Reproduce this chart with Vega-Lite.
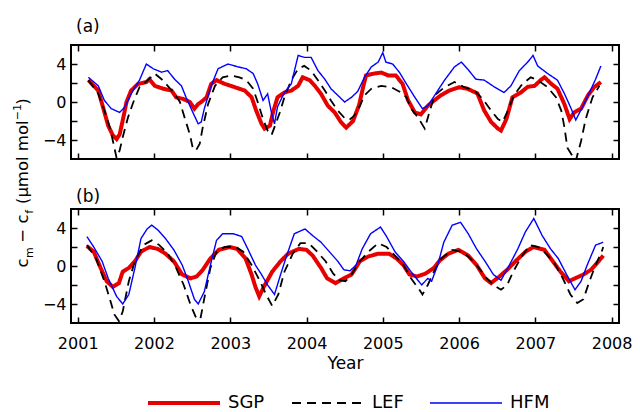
{
"$schema": "https://vega.github.io/schema/vega-lite/v6.json",
"background": "white",
"padding": {"left": 10, "top": 17, "right": 0, "bottom": 0},
"bounds": "flush",
"spacing": 50,
"config": {
  "font": "DejaVu Sans",
  "view": {"stroke": "black", "strokeWidth": 2},
  "axis": {"grid": false, "domain": false, "ticks": true, "tickColor": "black", "tickWidth": 1.5, "tickSize": -6, "labelFont": "DejaVu Sans", "labelFontSize": 16, "labelColor": "black", "labelFlush": false, "titleFont": "DejaVu Sans", "titleColor": "black", "titleFontWeight": "normal"},
  "title": {"font": "DejaVu Sans", "fontSize": 17, "fontWeight": "normal", "anchor": "start", "frame": "group", "color": "black"},
  "legend": {"labelFont": "DejaVu Sans", "labelFontSize": 18, "labelColor": "black"}
},
"data": {"values": [
{"p":"a","s":"SGP","x":2001.14,"y":2.3},{"p":"a","s":"SGP","x":2001.27,"y":1.2},{"p":"a","s":"SGP","x":2001.33,"y":-0.5},{"p":"a","s":"SGP","x":2001.40,"y":-2.5},{"p":"a","s":"SGP","x":2001.46,"y":-3.5},{"p":"a","s":"SGP","x":2001.51,"y":-3.9},{"p":"a","s":"SGP","x":2001.55,"y":-3.4},{"p":"a","s":"SGP","x":2001.59,"y":-1.95},{"p":"a","s":"SGP","x":2001.64,"y":0.0},{"p":"a","s":"SGP","x":2001.70,"y":1.2},{"p":"a","s":"SGP","x":2001.79,"y":1.9},{"p":"a","s":"SGP","x":2001.90,"y":2.1},{"p":"a","s":"SGP","x":2001.94,"y":2.4},{"p":"a","s":"SGP","x":2002.01,"y":1.7},{"p":"a","s":"SGP","x":2002.12,"y":1.4},{"p":"a","s":"SGP","x":2002.23,"y":1.2},{"p":"a","s":"SGP","x":2002.29,"y":0.5},{"p":"a","s":"SGP","x":2002.38,"y":0.33},{"p":"a","s":"SGP","x":2002.47,"y":0.0},{"p":"a","s":"SGP","x":2002.53,"y":-0.7},{"p":"a","s":"SGP","x":2002.58,"y":-0.2},{"p":"a","s":"SGP","x":2002.62,"y":0.0},{"p":"a","s":"SGP","x":2002.69,"y":0.5},{"p":"a","s":"SGP","x":2002.75,"y":1.9},{"p":"a","s":"SGP","x":2002.82,"y":2.3},{"p":"a","s":"SGP","x":2002.93,"y":1.9},{"p":"a","s":"SGP","x":2003.06,"y":1.56},{"p":"a","s":"SGP","x":2003.19,"y":1.2},{"p":"a","s":"SGP","x":2003.28,"y":0.5},{"p":"a","s":"SGP","x":2003.34,"y":-0.9},{"p":"a","s":"SGP","x":2003.41,"y":-2.3},{"p":"a","s":"SGP","x":2003.45,"y":-2.8},{"p":"a","s":"SGP","x":2003.52,"y":-2.5},{"p":"a","s":"SGP","x":2003.56,"y":-1.1},{"p":"a","s":"SGP","x":2003.62,"y":0.5},{"p":"a","s":"SGP","x":2003.71,"y":1.0},{"p":"a","s":"SGP","x":2003.80,"y":1.2},{"p":"a","s":"SGP","x":2003.89,"y":1.7},{"p":"a","s":"SGP","x":2003.95,"y":2.6},{"p":"a","s":"SGP","x":2004.04,"y":2.3},{"p":"a","s":"SGP","x":2004.11,"y":1.7},{"p":"a","s":"SGP","x":2004.19,"y":0.86},{"p":"a","s":"SGP","x":2004.28,"y":-0.4},{"p":"a","s":"SGP","x":2004.37,"y":-1.1},{"p":"a","s":"SGP","x":2004.45,"y":-2.1},{"p":"a","s":"SGP","x":2004.52,"y":-2.7},{"p":"a","s":"SGP","x":2004.61,"y":-2.0},{"p":"a","s":"SGP","x":2004.69,"y":-0.3},{"p":"a","s":"SGP","x":2004.74,"y":1.5},{"p":"a","s":"SGP","x":2004.78,"y":2.8},{"p":"a","s":"SGP","x":2004.89,"y":3.0},{"p":"a","s":"SGP","x":2004.98,"y":3.1},{"p":"a","s":"SGP","x":2005.07,"y":2.8},{"p":"a","s":"SGP","x":2005.17,"y":2.8},{"p":"a","s":"SGP","x":2005.26,"y":1.9},{"p":"a","s":"SGP","x":2005.33,"y":0.2},{"p":"a","s":"SGP","x":2005.42,"y":-1.1},{"p":"a","s":"SGP","x":2005.50,"y":-1.3},{"p":"a","s":"SGP","x":2005.59,"y":-0.4},{"p":"a","s":"SGP","x":2005.68,"y":0.2},{"p":"a","s":"SGP","x":2005.76,"y":0.7},{"p":"a","s":"SGP","x":2005.87,"y":1.2},{"p":"a","s":"SGP","x":2006.00,"y":1.55},{"p":"a","s":"SGP","x":2006.11,"y":1.4},{"p":"a","s":"SGP","x":2006.24,"y":0.9},{"p":"a","s":"SGP","x":2006.33,"y":-0.9},{"p":"a","s":"SGP","x":2006.42,"y":-2.1},{"p":"a","s":"SGP","x":2006.51,"y":-2.8},{"p":"a","s":"SGP","x":2006.55,"y":-3.0},{"p":"a","s":"SGP","x":2006.62,"y":-1.8},{"p":"a","s":"SGP","x":2006.70,"y":0.5},{"p":"a","s":"SGP","x":2006.81,"y":1.0},{"p":"a","s":"SGP","x":2006.90,"y":1.6},{"p":"a","s":"SGP","x":2006.99,"y":1.7},{"p":"a","s":"SGP","x":2007.07,"y":2.3},{"p":"a","s":"SGP","x":2007.12,"y":2.6},{"p":"a","s":"SGP","x":2007.21,"y":1.9},{"p":"a","s":"SGP","x":2007.29,"y":1.4},{"p":"a","s":"SGP","x":2007.38,"y":-0.2},{"p":"a","s":"SGP","x":2007.45,"y":-1.8},{"p":"a","s":"SGP","x":2007.51,"y":-1.1},{"p":"a","s":"SGP","x":2007.60,"y":-0.7},{"p":"a","s":"SGP","x":2007.69,"y":0.7},{"p":"a","s":"SGP","x":2007.77,"y":1.55},{"p":"a","s":"SGP","x":2007.86,"y":2.1},
{"p":"a","s":"LEF","x":2001.14,"y":2.3},{"p":"a","s":"LEF","x":2001.27,"y":0.86},{"p":"a","s":"LEF","x":2001.35,"y":-0.9},{"p":"a","s":"LEF","x":2001.42,"y":-2.65},{"p":"a","s":"LEF","x":2001.46,"y":-4.05},{"p":"a","s":"LEF","x":2001.51,"y":-5.9},{"p":"a","s":"LEF","x":2001.55,"y":-5.1},{"p":"a","s":"LEF","x":2001.59,"y":-3.7},{"p":"a","s":"LEF","x":2001.66,"y":-1.6},{"p":"a","s":"LEF","x":2001.73,"y":0.0},{"p":"a","s":"LEF","x":2001.81,"y":1.56},{"p":"a","s":"LEF","x":2001.92,"y":2.3},{"p":"a","s":"LEF","x":2002.01,"y":3.0},{"p":"a","s":"LEF","x":2002.10,"y":2.4},{"p":"a","s":"LEF","x":2002.18,"y":1.7},{"p":"a","s":"LEF","x":2002.27,"y":0.86},{"p":"a","s":"LEF","x":2002.34,"y":0.0},{"p":"a","s":"LEF","x":2002.40,"y":-1.6},{"p":"a","s":"LEF","x":2002.47,"y":-3.4},{"p":"a","s":"LEF","x":2002.51,"y":-4.9},{"p":"a","s":"LEF","x":2002.55,"y":-5.1},{"p":"a","s":"LEF","x":2002.60,"y":-4.4},{"p":"a","s":"LEF","x":2002.64,"y":-2.65},{"p":"a","s":"LEF","x":2002.71,"y":-0.2},{"p":"a","s":"LEF","x":2002.80,"y":1.7},{"p":"a","s":"LEF","x":2002.90,"y":2.6},{"p":"a","s":"LEF","x":2003.01,"y":2.8},{"p":"a","s":"LEF","x":2003.12,"y":2.6},{"p":"a","s":"LEF","x":2003.21,"y":2.3},{"p":"a","s":"LEF","x":2003.30,"y":1.4},{"p":"a","s":"LEF","x":2003.36,"y":0.0},{"p":"a","s":"LEF","x":2003.43,"y":-1.8},{"p":"a","s":"LEF","x":2003.49,"y":-3.0},{"p":"a","s":"LEF","x":2003.54,"y":-3.5},{"p":"a","s":"LEF","x":2003.58,"y":-2.65},{"p":"a","s":"LEF","x":2003.65,"y":-1.1},{"p":"a","s":"LEF","x":2003.71,"y":0.5},{"p":"a","s":"LEF","x":2003.80,"y":2.3},{"p":"a","s":"LEF","x":2003.89,"y":3.5},{"p":"a","s":"LEF","x":2003.97,"y":3.8},{"p":"a","s":"LEF","x":2004.06,"y":3.3},{"p":"a","s":"LEF","x":2004.15,"y":2.3},{"p":"a","s":"LEF","x":2004.24,"y":1.2},{"p":"a","s":"LEF","x":2004.32,"y":0.16},{"p":"a","s":"LEF","x":2004.41,"y":-0.9},{"p":"a","s":"LEF","x":2004.50,"y":-1.7},{"p":"a","s":"LEF","x":2004.56,"y":-1.9},{"p":"a","s":"LEF","x":2004.63,"y":-1.4},{"p":"a","s":"LEF","x":2004.70,"y":-0.4},{"p":"a","s":"LEF","x":2004.76,"y":0.7},{"p":"a","s":"LEF","x":2004.85,"y":1.4},{"p":"a","s":"LEF","x":2004.98,"y":1.7},{"p":"a","s":"LEF","x":2005.11,"y":1.56},{"p":"a","s":"LEF","x":2005.24,"y":1.0},{"p":"a","s":"LEF","x":2005.31,"y":0.5},{"p":"a","s":"LEF","x":2005.37,"y":-0.7},{"p":"a","s":"LEF","x":2005.46,"y":-1.6},{"p":"a","s":"LEF","x":2005.55,"y":-2.8},{"p":"a","s":"LEF","x":2005.61,"y":-1.1},{"p":"a","s":"LEF","x":2005.68,"y":0.7},{"p":"a","s":"LEF","x":2005.81,"y":1.56},{"p":"a","s":"LEF","x":2005.94,"y":2.1},{"p":"a","s":"LEF","x":2006.07,"y":1.56},{"p":"a","s":"LEF","x":2006.20,"y":1.2},{"p":"a","s":"LEF","x":2006.31,"y":0.33},{"p":"a","s":"LEF","x":2006.42,"y":-0.9},{"p":"a","s":"LEF","x":2006.51,"y":-1.8},{"p":"a","s":"LEF","x":2006.57,"y":-2.1},{"p":"a","s":"LEF","x":2006.64,"y":-0.9},{"p":"a","s":"LEF","x":2006.72,"y":0.7},{"p":"a","s":"LEF","x":2006.83,"y":1.9},{"p":"a","s":"LEF","x":2006.94,"y":2.6},{"p":"a","s":"LEF","x":2007.03,"y":2.3},{"p":"a","s":"LEF","x":2007.16,"y":1.56},{"p":"a","s":"LEF","x":2007.27,"y":0.5},{"p":"a","s":"LEF","x":2007.34,"y":-0.9},{"p":"a","s":"LEF","x":2007.38,"y":-2.6},{"p":"a","s":"LEF","x":2007.42,"y":-4.8},{"p":"a","s":"LEF","x":2007.48,"y":-5.6},{"p":"a","s":"LEF","x":2007.53,"y":-6.2},{"p":"a","s":"LEF","x":2007.60,"y":-4.1},{"p":"a","s":"LEF","x":2007.66,"y":-1.8},{"p":"a","s":"LEF","x":2007.75,"y":0.5},{"p":"a","s":"LEF","x":2007.84,"y":1.7},
{"p":"a","s":"HFM","x":2001.14,"y":2.6},{"p":"a","s":"HFM","x":2001.27,"y":1.7},{"p":"a","s":"HFM","x":2001.35,"y":0.16},{"p":"a","s":"HFM","x":2001.44,"y":-0.7},{"p":"a","s":"HFM","x":2001.55,"y":-1.1},{"p":"a","s":"HFM","x":2001.62,"y":-0.5},{"p":"a","s":"HFM","x":2001.70,"y":0.86},{"p":"a","s":"HFM","x":2001.81,"y":2.3},{"p":"a","s":"HFM","x":2001.90,"y":4.0},{"p":"a","s":"HFM","x":2001.99,"y":3.5},{"p":"a","s":"HFM","x":2002.10,"y":3.14},{"p":"a","s":"HFM","x":2002.18,"y":3.3},{"p":"a","s":"HFM","x":2002.27,"y":2.4},{"p":"a","s":"HFM","x":2002.36,"y":1.7},{"p":"a","s":"HFM","x":2002.42,"y":0.5},{"p":"a","s":"HFM","x":2002.51,"y":-1.1},{"p":"a","s":"HFM","x":2002.58,"y":-2.3},{"p":"a","s":"HFM","x":2002.62,"y":-2.1},{"p":"a","s":"HFM","x":2002.66,"y":-0.7},{"p":"a","s":"HFM","x":2002.75,"y":1.7},{"p":"a","s":"HFM","x":2002.84,"y":3.5},{"p":"a","s":"HFM","x":2002.97,"y":4.0},{"p":"a","s":"HFM","x":2003.10,"y":3.7},{"p":"a","s":"HFM","x":2003.21,"y":3.5},{"p":"a","s":"HFM","x":2003.30,"y":3.0},{"p":"a","s":"HFM","x":2003.36,"y":1.9},{"p":"a","s":"HFM","x":2003.43,"y":0.16},{"p":"a","s":"HFM","x":2003.49,"y":0.86},{"p":"a","s":"HFM","x":2003.54,"y":-1.1},{"p":"a","s":"HFM","x":2003.58,"y":-2.3},{"p":"a","s":"HFM","x":2003.62,"y":-0.5},{"p":"a","s":"HFM","x":2003.71,"y":1.0},{"p":"a","s":"HFM","x":2003.80,"y":1.9},{"p":"a","s":"HFM","x":2003.89,"y":4.9},{"p":"a","s":"HFM","x":2003.97,"y":4.7},{"p":"a","s":"HFM","x":2004.06,"y":4.7},{"p":"a","s":"HFM","x":2004.15,"y":3.3},{"p":"a","s":"HFM","x":2004.24,"y":2.4},{"p":"a","s":"HFM","x":2004.32,"y":1.4},{"p":"a","s":"HFM","x":2004.41,"y":0.7},{"p":"a","s":"HFM","x":2004.50,"y":0.0},{"p":"a","s":"HFM","x":2004.59,"y":0.5},{"p":"a","s":"HFM","x":2004.67,"y":1.1},{"p":"a","s":"HFM","x":2004.76,"y":2.6},{"p":"a","s":"HFM","x":2004.85,"y":3.7},{"p":"a","s":"HFM","x":2004.94,"y":4.2},{"p":"a","s":"HFM","x":2005.00,"y":5.2},{"p":"a","s":"HFM","x":2005.04,"y":4.2},{"p":"a","s":"HFM","x":2005.13,"y":4.0},{"p":"a","s":"HFM","x":2005.22,"y":3.1},{"p":"a","s":"HFM","x":2005.31,"y":1.9},{"p":"a","s":"HFM","x":2005.42,"y":0.5},{"p":"a","s":"HFM","x":2005.52,"y":-0.7},{"p":"a","s":"HFM","x":2005.59,"y":-0.4},{"p":"a","s":"HFM","x":2005.68,"y":0.7},{"p":"a","s":"HFM","x":2005.81,"y":2.3},{"p":"a","s":"HFM","x":2005.94,"y":3.7},{"p":"a","s":"HFM","x":2006.03,"y":4.2},{"p":"a","s":"HFM","x":2006.11,"y":3.5},{"p":"a","s":"HFM","x":2006.22,"y":2.4},{"p":"a","s":"HFM","x":2006.33,"y":2.3},{"p":"a","s":"HFM","x":2006.46,"y":1.6},{"p":"a","s":"HFM","x":2006.59,"y":1.0},{"p":"a","s":"HFM","x":2006.68,"y":1.7},{"p":"a","s":"HFM","x":2006.79,"y":3.3},{"p":"a","s":"HFM","x":2006.90,"y":4.2},{"p":"a","s":"HFM","x":2006.97,"y":4.9},{"p":"a","s":"HFM","x":2007.03,"y":3.8},{"p":"a","s":"HFM","x":2007.16,"y":3.0},{"p":"a","s":"HFM","x":2007.29,"y":2.3},{"p":"a","s":"HFM","x":2007.38,"y":0.9},{"p":"a","s":"HFM","x":2007.47,"y":-0.7},{"p":"a","s":"HFM","x":2007.53,"y":-1.9},{"p":"a","s":"HFM","x":2007.62,"y":-0.5},{"p":"a","s":"HFM","x":2007.71,"y":1.0},{"p":"a","s":"HFM","x":2007.79,"y":2.4},{"p":"a","s":"HFM","x":2007.86,"y":3.8},
{"p":"b","s":"SGP","x":2001.12,"y":2.1},{"p":"b","s":"SGP","x":2001.21,"y":1.5},{"p":"b","s":"SGP","x":2001.30,"y":-0.2},{"p":"b","s":"SGP","x":2001.38,"y":-1.6},{"p":"b","s":"SGP","x":2001.46,"y":-2.2},{"p":"b","s":"SGP","x":2001.54,"y":-1.8},{"p":"b","s":"SGP","x":2001.59,"y":-0.6},{"p":"b","s":"SGP","x":2001.67,"y":-0.2},{"p":"b","s":"SGP","x":2001.75,"y":0.5},{"p":"b","s":"SGP","x":2001.83,"y":1.5},{"p":"b","s":"SGP","x":2001.94,"y":2.0},{"p":"b","s":"SGP","x":2002.05,"y":1.8},{"p":"b","s":"SGP","x":2002.15,"y":1.3},{"p":"b","s":"SGP","x":2002.26,"y":0.5},{"p":"b","s":"SGP","x":2002.37,"y":-0.9},{"p":"b","s":"SGP","x":2002.48,"y":-1.3},{"p":"b","s":"SGP","x":2002.56,"y":-1.1},{"p":"b","s":"SGP","x":2002.64,"y":-0.4},{"p":"b","s":"SGP","x":2002.74,"y":0.8},{"p":"b","s":"SGP","x":2002.85,"y":1.7},{"p":"b","s":"SGP","x":2002.99,"y":2.0},{"p":"b","s":"SGP","x":2003.09,"y":1.8},{"p":"b","s":"SGP","x":2003.20,"y":0.8},{"p":"b","s":"SGP","x":2003.28,"y":-0.9},{"p":"b","s":"SGP","x":2003.33,"y":-2.2},{"p":"b","s":"SGP","x":2003.38,"y":-3.2},{"p":"b","s":"SGP","x":2003.44,"y":-2.2},{"p":"b","s":"SGP","x":2003.55,"y":-0.6},{"p":"b","s":"SGP","x":2003.66,"y":0.5},{"p":"b","s":"SGP","x":2003.76,"y":1.3},{"p":"b","s":"SGP","x":2003.90,"y":1.8},{"p":"b","s":"SGP","x":2004.00,"y":1.7},{"p":"b","s":"SGP","x":2004.08,"y":1.1},{"p":"b","s":"SGP","x":2004.19,"y":-0.2},{"p":"b","s":"SGP","x":2004.27,"y":-1.3},{"p":"b","s":"SGP","x":2004.38,"y":-1.8},{"p":"b","s":"SGP","x":2004.49,"y":-1.3},{"p":"b","s":"SGP","x":2004.59,"y":-0.9},{"p":"b","s":"SGP","x":2004.70,"y":0.5},{"p":"b","s":"SGP","x":2004.81,"y":1.0},{"p":"b","s":"SGP","x":2004.94,"y":1.3},{"p":"b","s":"SGP","x":2005.08,"y":1.3},{"p":"b","s":"SGP","x":2005.18,"y":0.8},{"p":"b","s":"SGP","x":2005.27,"y":0.1},{"p":"b","s":"SGP","x":2005.35,"y":-0.9},{"p":"b","s":"SGP","x":2005.45,"y":-1.1},{"p":"b","s":"SGP","x":2005.56,"y":-0.8},{"p":"b","s":"SGP","x":2005.67,"y":-0.2},{"p":"b","s":"SGP","x":2005.75,"y":0.6},{"p":"b","s":"SGP","x":2005.86,"y":1.3},{"p":"b","s":"SGP","x":2005.99,"y":1.7},{"p":"b","s":"SGP","x":2006.12,"y":1.1},{"p":"b","s":"SGP","x":2006.23,"y":0.1},{"p":"b","s":"SGP","x":2006.34,"y":-1.3},{"p":"b","s":"SGP","x":2006.42,"y":-1.8},{"p":"b","s":"SGP","x":2006.53,"y":-1.1},{"p":"b","s":"SGP","x":2006.63,"y":-0.4},{"p":"b","s":"SGP","x":2006.74,"y":0.5},{"p":"b","s":"SGP","x":2006.87,"y":1.5},{"p":"b","s":"SGP","x":2006.98,"y":2.0},{"p":"b","s":"SGP","x":2007.12,"y":1.7},{"p":"b","s":"SGP","x":2007.22,"y":0.6},{"p":"b","s":"SGP","x":2007.33,"y":-0.6},{"p":"b","s":"SGP","x":2007.44,"y":-1.6},{"p":"b","s":"SGP","x":2007.52,"y":-1.3},{"p":"b","s":"SGP","x":2007.63,"y":-0.9},{"p":"b","s":"SGP","x":2007.73,"y":-0.4},{"p":"b","s":"SGP","x":2007.84,"y":0.6},{"p":"b","s":"SGP","x":2007.89,"y":1.1},
{"p":"b","s":"LEF","x":2001.12,"y":2.2},{"p":"b","s":"LEF","x":2001.24,"y":0.8},{"p":"b","s":"LEF","x":2001.35,"y":-1.6},{"p":"b","s":"LEF","x":2001.43,"y":-3.7},{"p":"b","s":"LEF","x":2001.48,"y":-5.1},{"p":"b","s":"LEF","x":2001.54,"y":-5.8},{"p":"b","s":"LEF","x":2001.59,"y":-4.8},{"p":"b","s":"LEF","x":2001.67,"y":-1.6},{"p":"b","s":"LEF","x":2001.75,"y":0.5},{"p":"b","s":"LEF","x":2001.86,"y":2.2},{"p":"b","s":"LEF","x":2001.97,"y":2.7},{"p":"b","s":"LEF","x":2002.07,"y":2.2},{"p":"b","s":"LEF","x":2002.18,"y":1.3},{"p":"b","s":"LEF","x":2002.29,"y":-0.2},{"p":"b","s":"LEF","x":2002.39,"y":-2.0},{"p":"b","s":"LEF","x":2002.48,"y":-4.1},{"p":"b","s":"LEF","x":2002.56,"y":-5.6},{"p":"b","s":"LEF","x":2002.61,"y":-5.5},{"p":"b","s":"LEF","x":2002.66,"y":-3.4},{"p":"b","s":"LEF","x":2002.74,"y":-0.2},{"p":"b","s":"LEF","x":2002.82,"y":1.5},{"p":"b","s":"LEF","x":2002.93,"y":2.0},{"p":"b","s":"LEF","x":2003.07,"y":2.0},{"p":"b","s":"LEF","x":2003.17,"y":1.5},{"p":"b","s":"LEF","x":2003.28,"y":0.1},{"p":"b","s":"LEF","x":2003.39,"y":-1.6},{"p":"b","s":"LEF","x":2003.47,"y":-3.0},{"p":"b","s":"LEF","x":2003.55,"y":-4.2},{"p":"b","s":"LEF","x":2003.63,"y":-3.0},{"p":"b","s":"LEF","x":2003.71,"y":-0.6},{"p":"b","s":"LEF","x":2003.82,"y":1.3},{"p":"b","s":"LEF","x":2003.92,"y":2.4},{"p":"b","s":"LEF","x":2004.03,"y":2.4},{"p":"b","s":"LEF","x":2004.14,"y":1.5},{"p":"b","s":"LEF","x":2004.25,"y":0.5},{"p":"b","s":"LEF","x":2004.35,"y":-0.8},{"p":"b","s":"LEF","x":2004.43,"y":-1.5},{"p":"b","s":"LEF","x":2004.51,"y":-1.6},{"p":"b","s":"LEF","x":2004.59,"y":-0.9},{"p":"b","s":"LEF","x":2004.70,"y":0.5},{"p":"b","s":"LEF","x":2004.81,"y":1.5},{"p":"b","s":"LEF","x":2004.94,"y":2.4},{"p":"b","s":"LEF","x":2005.05,"y":2.0},{"p":"b","s":"LEF","x":2005.16,"y":1.1},{"p":"b","s":"LEF","x":2005.27,"y":0.1},{"p":"b","s":"LEF","x":2005.37,"y":-1.3},{"p":"b","s":"LEF","x":2005.48,"y":-2.5},{"p":"b","s":"LEF","x":2005.52,"y":-3.0},{"p":"b","s":"LEF","x":2005.59,"y":-2.0},{"p":"b","s":"LEF","x":2005.67,"y":-0.6},{"p":"b","s":"LEF","x":2005.77,"y":0.8},{"p":"b","s":"LEF","x":2005.91,"y":1.7},{"p":"b","s":"LEF","x":2006.02,"y":1.5},{"p":"b","s":"LEF","x":2006.12,"y":1.0},{"p":"b","s":"LEF","x":2006.23,"y":0.1},{"p":"b","s":"LEF","x":2006.34,"y":-1.1},{"p":"b","s":"LEF","x":2006.45,"y":-2.0},{"p":"b","s":"LEF","x":2006.55,"y":-2.5},{"p":"b","s":"LEF","x":2006.63,"y":-2.0},{"p":"b","s":"LEF","x":2006.71,"y":-0.6},{"p":"b","s":"LEF","x":2006.82,"y":1.0},{"p":"b","s":"LEF","x":2006.93,"y":2.2},{"p":"b","s":"LEF","x":2007.04,"y":2.0},{"p":"b","s":"LEF","x":2007.14,"y":1.3},{"p":"b","s":"LEF","x":2007.25,"y":0.3},{"p":"b","s":"LEF","x":2007.36,"y":-1.3},{"p":"b","s":"LEF","x":2007.46,"y":-3.0},{"p":"b","s":"LEF","x":2007.55,"y":-3.9},{"p":"b","s":"LEF","x":2007.63,"y":-3.5},{"p":"b","s":"LEF","x":2007.71,"y":-1.6},{"p":"b","s":"LEF","x":2007.79,"y":0.1},{"p":"b","s":"LEF","x":2007.87,"y":1.5},{"p":"b","s":"LEF","x":2007.89,"y":2.0},
{"p":"b","s":"HFM","x":2001.12,"y":3.1},{"p":"b","s":"HFM","x":2001.21,"y":2.0},{"p":"b","s":"HFM","x":2001.32,"y":0.5},{"p":"b","s":"HFM","x":2001.40,"y":-1.3},{"p":"b","s":"HFM","x":2001.51,"y":-3.2},{"p":"b","s":"HFM","x":2001.59,"y":-4.0},{"p":"b","s":"HFM","x":2001.67,"y":-3.0},{"p":"b","s":"HFM","x":2001.75,"y":-0.2},{"p":"b","s":"HFM","x":2001.83,"y":2.9},{"p":"b","s":"HFM","x":2001.91,"y":3.9},{"p":"b","s":"HFM","x":2001.97,"y":4.3},{"p":"b","s":"HFM","x":2002.05,"y":3.8},{"p":"b","s":"HFM","x":2002.15,"y":2.9},{"p":"b","s":"HFM","x":2002.26,"y":1.7},{"p":"b","s":"HFM","x":2002.37,"y":0.1},{"p":"b","s":"HFM","x":2002.45,"y":-1.6},{"p":"b","s":"HFM","x":2002.53,"y":-3.5},{"p":"b","s":"HFM","x":2002.58,"y":-4.0},{"p":"b","s":"HFM","x":2002.66,"y":-2.7},{"p":"b","s":"HFM","x":2002.74,"y":0.1},{"p":"b","s":"HFM","x":2002.82,"y":2.7},{"p":"b","s":"HFM","x":2002.90,"y":3.4},{"p":"b","s":"HFM","x":2003.04,"y":3.4},{"p":"b","s":"HFM","x":2003.15,"y":3.1},{"p":"b","s":"HFM","x":2003.23,"y":1.8},{"p":"b","s":"HFM","x":2003.33,"y":0.1},{"p":"b","s":"HFM","x":2003.41,"y":-0.9},{"p":"b","s":"HFM","x":2003.49,"y":-2.0},{"p":"b","s":"HFM","x":2003.58,"y":-3.0},{"p":"b","s":"HFM","x":2003.66,"y":-0.9},{"p":"b","s":"HFM","x":2003.74,"y":1.1},{"p":"b","s":"HFM","x":2003.84,"y":3.4},{"p":"b","s":"HFM","x":2003.98,"y":3.9},{"p":"b","s":"HFM","x":2004.08,"y":3.2},{"p":"b","s":"HFM","x":2004.19,"y":2.5},{"p":"b","s":"HFM","x":2004.30,"y":1.5},{"p":"b","s":"HFM","x":2004.41,"y":0.5},{"p":"b","s":"HFM","x":2004.49,"y":-0.4},{"p":"b","s":"HFM","x":2004.57,"y":-0.5},{"p":"b","s":"HFM","x":2004.65,"y":0.1},{"p":"b","s":"HFM","x":2004.73,"y":1.8},{"p":"b","s":"HFM","x":2004.84,"y":3.4},{"p":"b","s":"HFM","x":2004.97,"y":4.1},{"p":"b","s":"HFM","x":2005.05,"y":3.1},{"p":"b","s":"HFM","x":2005.16,"y":1.5},{"p":"b","s":"HFM","x":2005.27,"y":0.5},{"p":"b","s":"HFM","x":2005.37,"y":-0.6},{"p":"b","s":"HFM","x":2005.51,"y":-2.0},{"p":"b","s":"HFM","x":2005.59,"y":-1.3},{"p":"b","s":"HFM","x":2005.64,"y":-1.6},{"p":"b","s":"HFM","x":2005.72,"y":0.1},{"p":"b","s":"HFM","x":2005.80,"y":2.5},{"p":"b","s":"HFM","x":2005.91,"y":4.3},{"p":"b","s":"HFM","x":2006.02,"y":4.6},{"p":"b","s":"HFM","x":2006.12,"y":3.4},{"p":"b","s":"HFM","x":2006.23,"y":1.8},{"p":"b","s":"HFM","x":2006.34,"y":0.5},{"p":"b","s":"HFM","x":2006.45,"y":-0.9},{"p":"b","s":"HFM","x":2006.55,"y":-1.5},{"p":"b","s":"HFM","x":2006.66,"y":0.1},{"p":"b","s":"HFM","x":2006.77,"y":1.8},{"p":"b","s":"HFM","x":2006.87,"y":3.6},{"p":"b","s":"HFM","x":2006.98,"y":5.0},{"p":"b","s":"HFM","x":2007.09,"y":3.2},{"p":"b","s":"HFM","x":2007.20,"y":1.8},{"p":"b","s":"HFM","x":2007.30,"y":0.8},{"p":"b","s":"HFM","x":2007.41,"y":-0.9},{"p":"b","s":"HFM","x":2007.52,"y":-2.5},{"p":"b","s":"HFM","x":2007.60,"y":-1.6},{"p":"b","s":"HFM","x":2007.68,"y":0.1},{"p":"b","s":"HFM","x":2007.79,"y":2.2},{"p":"b","s":"HFM","x":2007.89,"y":2.5}
]},
"vconcat": [
{
  "width": 548, "height": 114,
  "title": {"text": "(a)", "dx": 5, "offset": -5, "baseline": "alphabetic"},
  "layer": [
    {
      "transform": [{"filter": "datum.p == 'a' && datum.s == 'SGP'"}],
      "mark": {"type": "line", "strokeWidth": 4, "clip": true},
      "encoding": {
        "x": {"field": "x", "type": "quantitative", "scale": {"domain": [2000.912, 2008.097], "nice": false, "zero": false},
              "axis": {"orient": "bottom", "values": [2001,2002,2003,2004,2005,2006,2007,2008], "labels": false,
                       "title": "−1", "titleFontSize": 11, "titleAngle": 270, "titleAlign": "left", "titleBaseline": "alphabetic", "titleX": -50.6, "titleY": -39.3}},
        "y": {"field": "y", "type": "quantitative", "scale": {"domain": [-6, 6], "nice": false, "zero": false},
              "axis": {"orient": "left", "values": [-4,-2,0,2,4], "labelExpr": "datum.value % 4 === 0 ? datum.label : ''", "labelPadding": 11,
                       "title": "c\u00a0\u00a0\u00a0−\u00a0c\u00a0\u00a0(μmol\u00a0mol\u00a0\u00a0\u00a0)", "titleFontSize": 16.5, "titleAngle": 270, "titleAlign": "left", "titleBaseline": "alphabetic", "titleX": -44, "titleY": 222}},
        "color": {"field": "s", "type": "nominal", "scale": {"domain": ["SGP","LEF","HFM"], "range": ["#e60000","#000000","#0000ff"]},
                  "legend": {"orient": "none", "legendX": 104, "legendY": 349, "direction": "horizontal", "title": null, "symbolType": "M-4,0H4", "symbolSize": 324, "labelOffset": 35, "columnPadding": 23, "padding": 0,
                             "encode": {"symbols": {"update": {"strokeWidth": {"signal": "datum.value === 'SGP' ? 4 : datum.value === 'LEF' ? 1.8 : 1.4"}}}}}},
        "strokeDash": {"field": "s", "type": "nominal", "scale": {"domain": ["SGP","LEF","HFM"], "range": [[1,0],[9,6],[1,0]]}}
      }
    },
    {
      "transform": [{"filter": "datum.p == 'a' && datum.s == 'LEF'"}],
      "mark": {"type": "line", "strokeWidth": 1.8, "clip": true},
      "encoding": {
        "x": {"field": "x", "type": "quantitative", "axis": null},
        "y": {"field": "y", "type": "quantitative", "axis": null},
        "color": {"field": "s", "type": "nominal"},
        "strokeDash": {"field": "s", "type": "nominal"}
      }
    },
    {
      "transform": [{"filter": "datum.p == 'a' && datum.s == 'HFM'"}],
      "mark": {"type": "line", "strokeWidth": 1.4, "clip": true},
      "encoding": {
        "x": {"field": "x", "type": "quantitative",
              "axis": {"orient": "top", "values": [2001,2002,2003,2004,2005,2006,2007,2008], "labels": false, "title": null}},
        "y": {"field": "y", "type": "quantitative",
              "axis": {"orient": "right", "values": [-4,-2,0,2,4], "labels": false, "title": null}},
        "color": {"field": "s", "type": "nominal"},
        "strokeDash": {"field": "s", "type": "nominal"}
      }
    }
  ],
  "resolve": {"axis": {"x": "independent", "y": "independent"}}
},
{
  "width": 548, "height": 114,
  "title": {"text": "(b)", "dx": 5, "offset": -11, "baseline": "alphabetic"},
  "layer": [
    {
      "transform": [{"filter": "datum.p == 'b' && datum.s == 'SGP'"}],
      "mark": {"type": "line", "strokeWidth": 4, "clip": true},
      "encoding": {
        "x": {"field": "x", "type": "quantitative", "scale": {"domain": [2000.912, 2008.097], "nice": false, "zero": false},
              "axis": {"orient": "bottom", "values": [2001,2002,2003,2004,2005,2006,2007,2008], "format": "d", "labelPadding": 18,
                       "title": "Year", "titleFontSize": 17, "titlePadding": 4}},
        "y": {"field": "y", "type": "quantitative", "scale": {"domain": [-6, 6], "nice": false, "zero": false},
              "axis": {"orient": "left", "values": [-4,-2,0,2,4], "labelExpr": "datum.value % 4 === 0 ? datum.label : ''", "labelPadding": 11,
                       "title": "m\u00a0\u00a0\u00a0\u00a0\u00a0\u00a0\u00a0\u00a0\u00a0\u2009f", "titleFontSize": 11, "titleAngle": 270, "titleAlign": "left", "titleBaseline": "alphabetic", "titleX": -38.5, "titleY": 48.6}},
        "color": {"field": "s", "type": "nominal"},
        "strokeDash": {"field": "s", "type": "nominal"}
      }
    },
    {
      "transform": [{"filter": "datum.p == 'b' && datum.s == 'LEF'"}],
      "mark": {"type": "line", "strokeWidth": 1.8, "clip": true},
      "encoding": {
        "x": {"field": "x", "type": "quantitative", "axis": null},
        "y": {"field": "y", "type": "quantitative", "axis": null},
        "color": {"field": "s", "type": "nominal"},
        "strokeDash": {"field": "s", "type": "nominal"}
      }
    },
    {
      "transform": [{"filter": "datum.p == 'b' && datum.s == 'HFM'"}],
      "mark": {"type": "line", "strokeWidth": 1.4, "clip": true},
      "encoding": {
        "x": {"field": "x", "type": "quantitative",
              "axis": {"orient": "top", "values": [2001,2002,2003,2004,2005,2006,2007,2008], "labels": false, "title": null}},
        "y": {"field": "y", "type": "quantitative",
              "axis": {"orient": "right", "values": [-4,-2,0,2,4], "labels": false, "title": null}},
        "color": {"field": "s", "type": "nominal"},
        "strokeDash": {"field": "s", "type": "nominal"}
      }
    }
  ],
  "resolve": {"axis": {"x": "independent", "y": "independent"}}
}
]
}
